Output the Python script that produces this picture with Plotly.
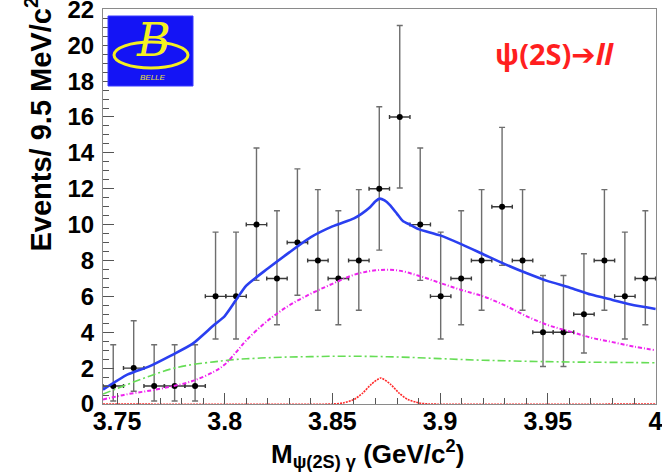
import plotly.graph_objects as go

# ---------------- data ----------------
bin_centers = [3.74825, 3.75775, 3.76725, 3.77675, 3.78625, 3.79575, 3.80525, 3.81475,
               3.82425, 3.83375, 3.84325, 3.85275, 3.86225, 3.87175, 3.88125, 3.89075,
               3.90025, 3.90975, 3.91925, 3.92875, 3.93825, 3.94775, 3.95725, 3.96675,
               3.97625, 3.98575, 3.99525]
counts = [1, 2, 1, 1, 1, 6, 6, 10, 7, 9, 8, 7, 8, 12, 16, 10, 6, 7, 8, 11, 8, 4, 4, 5, 8, 6, 7]
err_hi = [2.30, 2.64, 2.30, 2.30, 2.30, 3.58, 3.58, 4.27, 3.77, 4.11, 3.95, 3.77, 3.95, 4.57,
          5.10, 4.27, 3.58, 3.77, 3.95, 4.42, 3.95, 3.16, 3.16, 3.38, 3.95, 3.58, 3.77]
err_lo = [0.83, 1.29, 0.83, 0.83, 0.83, 2.38, 2.38, 3.11, 2.58, 2.94, 2.77, 2.58, 2.77, 3.42,
          3.96, 3.11, 2.38, 2.58, 2.77, 3.27, 2.77, 1.91, 1.91, 2.16, 2.77, 2.38, 2.58]
half_bin = 0.00475

comp_x = [3.7435, 3.755, 3.765, 3.775, 3.785, 3.795, 3.800, 3.805, 3.810, 3.820, 3.830,
          3.840, 3.850, 3.860, 3.870, 3.880, 3.890, 3.900, 3.910, 3.920, 3.930, 3.940,
          3.950, 3.960, 3.970, 3.980, 3.990, 4.000]
broad_sig = [0.25, 0.55, 0.74, 0.97, 1.28, 1.8, 2.2, 2.85, 3.55, 4.65, 5.5, 6.15, 6.7, 7.2,
             7.45, 7.45, 7.15, 6.75, 6.35, 6.0, 5.5, 4.9, 4.4, 4.05, 3.7, 3.45, 3.2, 3.0]
bkg = [0.55, 1.1, 1.55, 1.95, 2.2, 2.35, 2.42, 2.48, 2.52, 2.58, 2.62, 2.64, 2.66, 2.66,
       2.65, 2.62, 2.58, 2.53, 2.48, 2.44, 2.41, 2.38, 2.36, 2.34, 2.33, 2.32, 2.31, 2.3]

total_x = [3.7435, 3.755, 3.765, 3.775, 3.785, 3.795, 3.800, 3.805, 3.810, 3.820, 3.830,
           3.840, 3.850, 3.860, 3.8635, 3.8673, 3.8700, 3.8719, 3.8742, 3.8766, 3.880,
           3.8827, 3.886, 3.890, 3.900, 3.910, 3.920, 3.930, 3.940, 3.950, 3.960, 3.970,
           3.980, 3.990, 4.000]
total = [0.8, 1.65, 2.1, 2.7, 3.35, 4.4, 4.9, 5.75, 6.6, 7.55, 8.45, 9.3, 9.9, 10.35, 10.6,
         10.95, 11.3, 11.45, 11.35, 11.1, 10.6, 10.2, 10.0, 9.75, 9.4, 8.9, 8.35, 7.8, 7.3,
         6.85, 6.5, 6.1, 5.8, 5.5, 5.3]

peak_x = [3.7435, 3.850, 3.855, 3.860, 3.864, 3.868, 3.8725, 3.877, 3.881, 3.885, 3.890,
          3.895, 4.000]
peak = [0, 0, 0.06, 0.25, 0.6, 1.1, 1.45, 1.1, 0.6, 0.25, 0.06, 0, 0]

x_tickvals = [3.75, 3.8, 3.85, 3.9, 3.95, 4.0]
x_ticktext = ["3.75", "3.8", "3.85", "3.9", "3.95", "4"]
y_tickvals = [0, 2, 4, 6, 8, 10, 12, 14, 16, 18, 20, 22]

x_range = [3.7435, 4.0]
y_range = [0, 22]

# ---------------- layout geometry ----------------
W, H = 662, 472
L, R, T, B = 103, 6, 9, 68
PW, PH = W - L - R, H - T - B


def px(xp):
    return (xp - L) / PW


def py(yp):
    return 1 - (yp - T) / PH


fig = go.Figure()

# data points
fig.add_trace(go.Scatter(
    x=bin_centers, y=counts, mode="markers",
    marker=dict(color="black", size=6),
    error_y=dict(type="data", symmetric=False, array=err_hi, arrayminus=err_lo,
                 color="#6e6e6e", thickness=1.4, width=3),
    error_x=dict(type="constant", value=half_bin, color="#3a3a3a", thickness=1.4, width=2),
    showlegend=False, cliponaxis=True,
))

# fit components
fig.add_trace(go.Scatter(x=comp_x, y=bkg, mode="lines",
                         line=dict(color="#66dd55", width=1.6, dash="8px,3px,2px,3px", shape="spline"),
                         showlegend=False))
fig.add_trace(go.Scatter(x=comp_x, y=broad_sig, mode="lines",
                         line=dict(color="#ee22ee", width=2, dash="4px,2px,1px,2px", shape="spline"),
                         showlegend=False))
fig.add_trace(go.Scatter(x=peak_x, y=peak, mode="lines",
                         line=dict(color="#ff2a2a", width=1.6, dash="2px,1px", shape="spline", smoothing=0.6),
                         showlegend=False))
fig.add_trace(go.Scatter(x=total_x, y=total, mode="lines",
                         line=dict(color="#2a3ff0", width=2.6, shape="spline", smoothing=0.6),
                         showlegend=False))

xtickfont = dict(family="Liberation Sans, Arial, sans-serif", size=25, color="black", weight="bold")
ytickfont = dict(family="Liberation Sans, Arial, sans-serif", size=24, color="black", weight="bold")

fig.update_xaxes(
    range=[x_range[0], x_range[1] + 0.0002], tickmode="array", tickvals=x_tickvals,
    ticktext=x_ticktext, ticks="inside", ticklen=11, tickwidth=1,
    tickcolor="#555555", showline=True, linecolor="#8a8a8a", linewidth=1, mirror=True,
    showgrid=False, zeroline=False, tickfont=xtickfont, ticklabelstandoff=-5,
    ticklabeloverflow="allow", automargin=False,
    minor=dict(dtick=0.01, tick0=3.75, ticks="inside", ticklen=6, tickcolor="#555555", showgrid=False),
)
fig.update_yaxes(
    range=[y_range[0], y_range[1] + 0.02], tickmode="array", tickvals=y_tickvals,
    ticks="inside", ticklen=11, tickwidth=1,
    tickcolor="#555555", showline=True, linecolor="#8a8a8a", linewidth=1, mirror=True,
    showgrid=False, zeroline=False, tickfont=ytickfont, ticklabelstandoff=3,
    ticklabeloverflow="allow", automargin=False,
    minor=dict(dtick=0.5, tick0=0, ticks="inside", ticklen=6, tickcolor="#555555", showgrid=False),
)

# Belle logo
fig.add_shape(type="rect", xref="paper", yref="paper",
              x0=px(108), x1=px(193), y0=py(86), y1=py(16),
              fillcolor="#1414f5", line=dict(color="#3a3aff", width=1), layer="above")
fig.add_shape(type="circle", xref="paper", yref="paper",
              x0=px(114), x1=px(188), y0=py(68), y1=py(42),
              fillcolor="rgba(0,0,0,0)", line=dict(color="#f5f020", width=3), layer="above")

annotations = [
    dict(text="<i>B</i>", x=px(153), y=py(40), xref="paper", yref="paper",
         showarrow=False, font=dict(family="DejaVu Serif", size=46, color="#f5f020"),
         xanchor="center", yanchor="middle"),
    dict(text="<i>BELLE</i>", x=px(153), y=py(77), xref="paper", yref="paper",
         showarrow=False, font=dict(family="Liberation Sans", size=8, color="#e8e030"),
         xanchor="center", yanchor="middle"),
    dict(text="ψ(2S)<span style=\"font-family:DejaVu Sans\">➔</span><i>ll</i>",
         x=px(554), y=py(53), xref="paper", yref="paper",
         showarrow=False, font=dict(family="Noto Sans", size=29, color="#ff1f1f", weight="bold"),
         xanchor="center", yanchor="middle"),
    dict(text="<b>Events/ 9.5 MeV/c<sup>2</sup></b>", x=px(38), y=py(-5), xref="paper",
         yref="paper", textangle=-90, showarrow=False,
         font=dict(family="Liberation Sans, Arial, sans-serif", size=29, color="black"),
         xanchor="center", yanchor="top"),
    dict(text="<b>M</b><sub><b>ψ(2S) γ</b></sub><b> (GeV/c<sup>2</sup>)</b>", x=px(367), y=py(454),
         xref="paper", yref="paper", showarrow=False,
         font=dict(family="Liberation Sans, Arial, sans-serif", size=26, color="black"),
         xanchor="center", yanchor="middle"),
]

fig.update_layout(
    width=W, height=H, margin=dict(l=L, r=R, t=T, b=B, pad=0, autoexpand=False),
    paper_bgcolor="white", plot_bgcolor="white",
    annotations=annotations, showlegend=False,
)

fig.write_html("out.html")
